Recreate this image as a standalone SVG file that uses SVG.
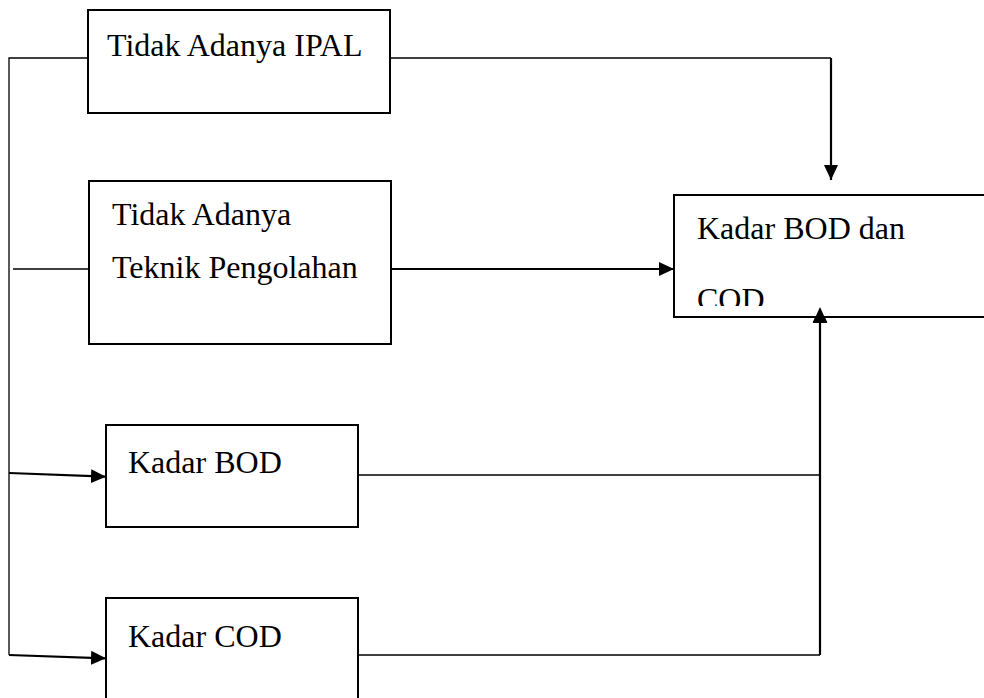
<svg xmlns="http://www.w3.org/2000/svg" width="984" height="698" viewBox="0 0 984 698">
  <style>
    .box { fill: #ffffff; stroke: #000000; stroke-width: 2; }
    .lbl { font-family: "Liberation Serif", "Times New Roman", serif; font-size: 32px; fill: #000000; }
    .thin { fill: none; stroke: #000000; stroke-width: 1.3; }
    .thick { fill: none; stroke: #000000; stroke-width: 2.2; }
  </style>
  <defs>
    <marker id="arrow" viewBox="0 0 15 14" refX="15" refY="7" markerWidth="15" markerHeight="14" markerUnits="userSpaceOnUse" orient="auto">
      <path d="M0,0 L15,7 L0,14 z" fill="#000000"/>
    </marker>
    <clipPath id="resultClip">
      <rect x="675" y="196" width="320" height="110"/>
    </clipPath>
  </defs>

  <rect width="984" height="698" fill="#ffffff"/>

  <!-- connectors -->
  <g id="connectors">
    <path class="thin" d="M88,58 H9 V655"/>
    <path class="thin" d="M390,58 H831"/>
    <path class="thick" d="M831,58 V180" marker-end="url(#arrow)"/>
    <path class="thin" d="M13,269 H89"/>
    <path class="thick" d="M392,269 H674" marker-end="url(#arrow)"/>
    <path class="thick" d="M9,473 L106,476.7" marker-end="url(#arrow)"/>
    <path class="thick" d="M9,655 L106,658.3" marker-end="url(#arrow)"/>
    <path class="thin" d="M358,475 H820"/>
    <path class="thin" d="M358,655 H820"/>
    <path class="thick" d="M820,655 V307" marker-end="url(#arrow)"/>
  </g>

  <!-- source factors -->
  <g id="node-ipal">
    <rect class="box" x="88" y="10" width="302" height="103"/>
    <text class="lbl" x="107" y="56">Tidak Adanya IPAL</text>
  </g>

  <g id="node-teknik">
    <rect class="box" x="89" y="181" width="302" height="163"/>
    <text class="lbl" x="112" y="225">Tidak Adanya</text>
    <text class="lbl" x="112" y="278">Teknik Pengolahan</text>
  </g>

  <g id="node-bod">
    <rect class="box" x="106" y="425" width="252" height="102"/>
    <text class="lbl" x="128" y="473">Kadar BOD</text>
  </g>

  <g id="node-cod">
    <rect class="box" x="106" y="598" width="252" height="130"/>
    <text class="lbl" x="128" y="647">Kadar COD</text>
  </g>

  <!-- outcome -->
  <g id="node-result">
    <rect class="box" x="674" y="195" width="330" height="122"/>
    <g clip-path="url(#resultClip)">
      <text class="lbl" x="697" y="239">Kadar BOD dan</text>
      <text class="lbl" x="697" y="310">COD</text>
    </g>
  </g>

  <!-- upward arrowhead drawn over the box edge -->
  <path d="M812.7,323 L820,307 L827.3,323 z" fill="#000000"/>
</svg>
